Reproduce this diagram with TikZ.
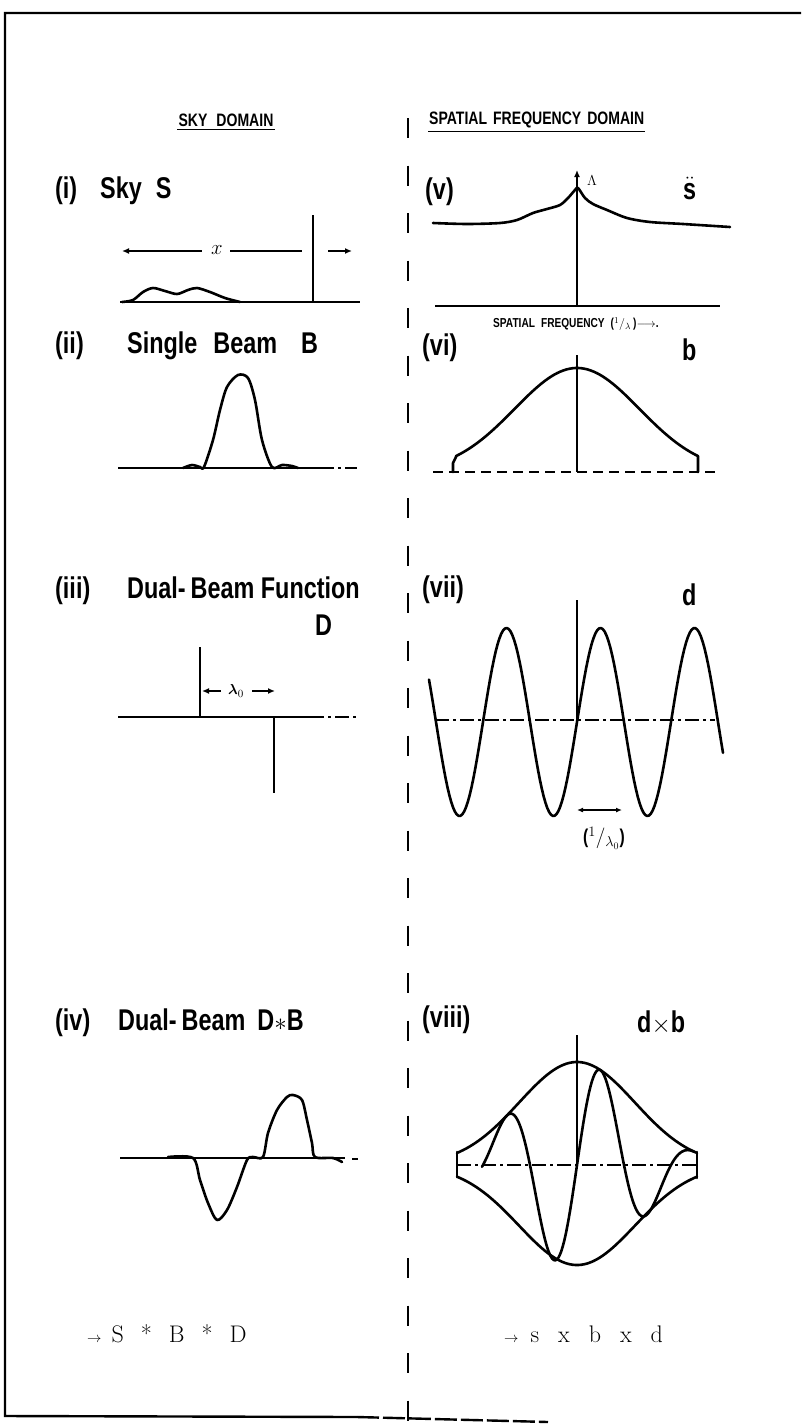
\documentclass[tikz,border=0pt]{standalone}
\usepackage{amsmath}
\usepackage{fontspec}
\newfontfamily\lettering{Liberation Sans}[FakeStretch=0.78]
\usetikzlibrary{arrows.meta}

\begin{document}
\begin{tikzpicture}[>={Latex[length=7pt,width=6pt]}, x=1pt, y=-1pt,
  curve/.style={line width=2.6pt,line join=round,line cap=round},
  axisline/.style={line width=1.7pt},
  spike/.style={line width=2.2pt},
  lab/.style={font=\lettering\bfseries\fontsize{30}{30}\selectfont,inner sep=0pt,anchor=base west},
  hdr/.style={font=\lettering\bfseries\fontsize{18}{18}\selectfont,inner sep=1pt},
  note/.style={font=\lettering\bfseries\fontsize{13}{13}\selectfont,inner sep=0pt},
  formula/.style={font=\fontsize{24}{24}\selectfont,inner sep=0pt,anchor=base west},
  dashdot/.style={dash pattern=on 14pt off 4pt on 3pt off 4pt}]
  \useasboundingbox (0,0) rectangle (801,1427);
  % frame and divider
  \draw[line width=2.4pt] (801,13) -- (5,13) -- (5,1416) -- (357,1417);
  \draw[line width=2.4pt,dash pattern=on 22pt off 4pt] (357,1417) -- (548,1422);
  \draw[line width=2.4pt,dash pattern=on 20pt off 27.5pt] (408,118) -- (408,1427);

  % headings
  \node[hdr] (skyhd) at (226,120) {SKY\hspace{9pt}DOMAIN};
  \draw[line width=1.3pt] ([yshift=-2pt]skyhd.south west) -- ([yshift=-2pt]skyhd.south east);
  \node[hdr,anchor=west] (freqhd) at (428,120) {SPATIAL\hspace{6pt}FREQUENCY\hspace{6pt}DOMAIN};
  \draw[line width=1.3pt] ([yshift=-2pt]freqhd.south west) -- ([yshift=-2pt]freqhd.south east);

  % (i) sky
  \node[lab] (lbli) at (55,198) {(i)};
  \node[lab] (sky) at (100,198) {Sky\hspace{14pt}S};
  \draw[axisline] (120,302) -- (360,302);
  \draw[spike] (313,215) -- (313,302);
  \node[font=\fontsize{22}{22}\selectfont,inner sep=0pt] (xpos) at (217,250) {$x$};
  \draw[<-,line width=1.6pt] (122,251) -- (202,251);
  \draw[line width=1.6pt] (230,251) -- (302,251);
  \draw[->,line width=1.6pt] (328,251) -- (352,251);
  \draw[curve] plot[smooth] coordinates {(122,302) (133,300) (143,292) (153,288) (165,291)
    (177,294) (188,290) (197,288) (210,292) (225,298) (240,302)};

  % (ii) single beam
  \node[lab] (lblii) at (55,353) {(ii)};
  \node[lab] (beam) at (127,353) {Single\hspace{16pt}Beam\hspace{24pt}B};
  \draw[axisline] (118,468) -- (320,468);
  \draw[axisline,dashdot] (320,468) -- (357,468);
  \draw[curve] plot[smooth] coordinates {(183,468) (192,465) (200,467) (204,467) (213,440)
    (220,410) (227,387) (238,375) (248,378) (255,400) (262,440) (272,467) (282,465) (292,466) (298,468)};

  % (iii) dual-beam function
  \node[lab] (lbliii) at (55,598) {(iii)};
  \node[lab] (dualfn) at (127,598) {Dual-\,Beam Function};
  \node[lab] (dfn) at (315,635) {D};
  \draw[axisline] (118,717) -- (310,717);
  \draw[axisline,dashdot] (310,717) -- (358,717);
  \draw[spike] (200,647) -- (200,717);
  \draw[spike] (274,718) -- (274,793);
  \node[font=\fontsize{15}{15}\selectfont,inner sep=0pt] (lam0) at (236,691) {$\boldsymbol{\lambda}_0$};
  \draw[<-,line width=1.5pt] (202,691) -- (221,691);
  \draw[->,line width=1.5pt] (252,691) -- (275,691);

  % (iv) dual-beam D*B
  \node[lab] (lbliv) at (55,1030) {(iv)};
  \node[lab] (dualb) at (118,1030) {Dual-\,Beam\hspace{12pt}D$\ast$B};
  \draw[axisline] (120,1158) -- (345,1158);
  \draw[axisline] (352,1159) -- (358,1159);
  \draw[curve] plot[smooth] coordinates {(168,1157) (193,1158) (200,1180) (208,1203) (217,1220)
    (227,1210) (237,1187) (247,1160) (253,1157) (263,1157) (268,1133) (277,1110) (287,1097)
    (293,1095) (302,1100) (307,1120) (312,1143) (315,1157) (333,1158) (342,1162)};

  \node[formula] (skyres) at (87,1342) {{\fontsize{14}{14}\selectfont$\rightarrow$}\hspace{10pt}S\hspace{17pt}*\hspace{17pt}B\hspace{17pt}*\hspace{17pt}D};

  % (v) transform of sky
  \node[lab] (lblv) at (425,199) {(v)};
  \node[lab] (stil) at (683,199) {$\ddot{\text{s}}$};
  \draw[axisline] (435,306) -- (720,306);
  \draw[spike,->] (577,306) -- (577,170);
  \node[font=\fontsize{15}{15}\selectfont,inner sep=0pt] (peak) at (592,181) {$\Lambda$};
  \draw[curve] plot[smooth] coordinates {(433,223) (467,224) (500,223) (517,220) (533,213)
    (547,209) (560,205) (568,198) (575,190) (578,188) (585,198) (593,204) (607,210) (627,218)
    (650,222) (683,224) (730,227)};
  \node[note,anchor=west] (sfreq) at (493,324) {SPATIAL\hspace{6pt}FREQUENCY\hspace{6pt}($^1/_{\lambda}$\,)$\longrightarrow$.};

  % (vi) transform of beam
  \node[lab] (lblvi) at (422,355) {(vi)};
  \node[lab] (bt) at (682,360) {b};
  \draw[axisline,dash pattern=on 10pt off 6pt] (433,472) -- (718,472);
  \draw[spike] (577,355) -- (577,472);
  \draw[curve] (453,472) -- (453,463) -- (456,457)
    -- plot[domain=456:698,samples=80] (\x,{472-104*exp(-(((\x-577)/100)^2)/0.78)})
    -- (698,463) -- (698,472);

  % (vii) transform of dual beam
  \node[lab] (lblvii) at (422,597) {(vii)};
  \node[lab] (dt) at (682,605) {d};
  \draw[axisline,dashdot] (435,720) -- (715,720);
  \draw[spike] (577,600) -- (577,720);
  \draw[curve] plot[domain=429:723,samples=160] (\x,{722-94*sin((\x-577)/94*360)});
  \draw[{Latex[length=6pt,width=5pt]}-{Latex[length=6pt,width=5pt]},line width=1.6pt] (577,810) -- (622,810);
  \node[font=\lettering\bfseries\fontsize{20}{20}\selectfont,inner sep=0pt] (per) at (604,838) {($^1/_{\lambda_0}$)};

  % (viii) product d x b
  \node[lab] (lblviii) at (422,1027) {(viii)};
  \node[lab] (dbt) at (637,1032) {d$\times$b};
  \draw[axisline,dashdot] (457,1165) -- (697,1165);
  \draw[spike] (577,1035) -- (577,1165);
  \draw[curve] plot[domain=457:697,samples=80] (\x,{1165-103*exp(-(((\x-577)/100)^2)/0.6708)});
  \draw[curve] plot[domain=457:697,samples=80] (\x,{1165+100*exp(-(((\x-577)/100)^2)/0.6708)});
  \draw[curve] (457,1152) -- (457,1177);
  \draw[curve] (697,1152) -- (697,1178);
  \draw[curve] plot[domain=482:694,samples=140] (\x,{1165-103*exp(-(((\x-577)/100)^2)/0.6708)*sin((\x-577)/94*360)});

  \node[formula] (freqres) at (504,1342) {{\fontsize{14}{14}\selectfont$\rightarrow$}\hspace{12pt}s\hspace{19pt}x\hspace{19pt}b\hspace{19pt}x\hspace{19pt}d};
\end{tikzpicture}
\end{document}
